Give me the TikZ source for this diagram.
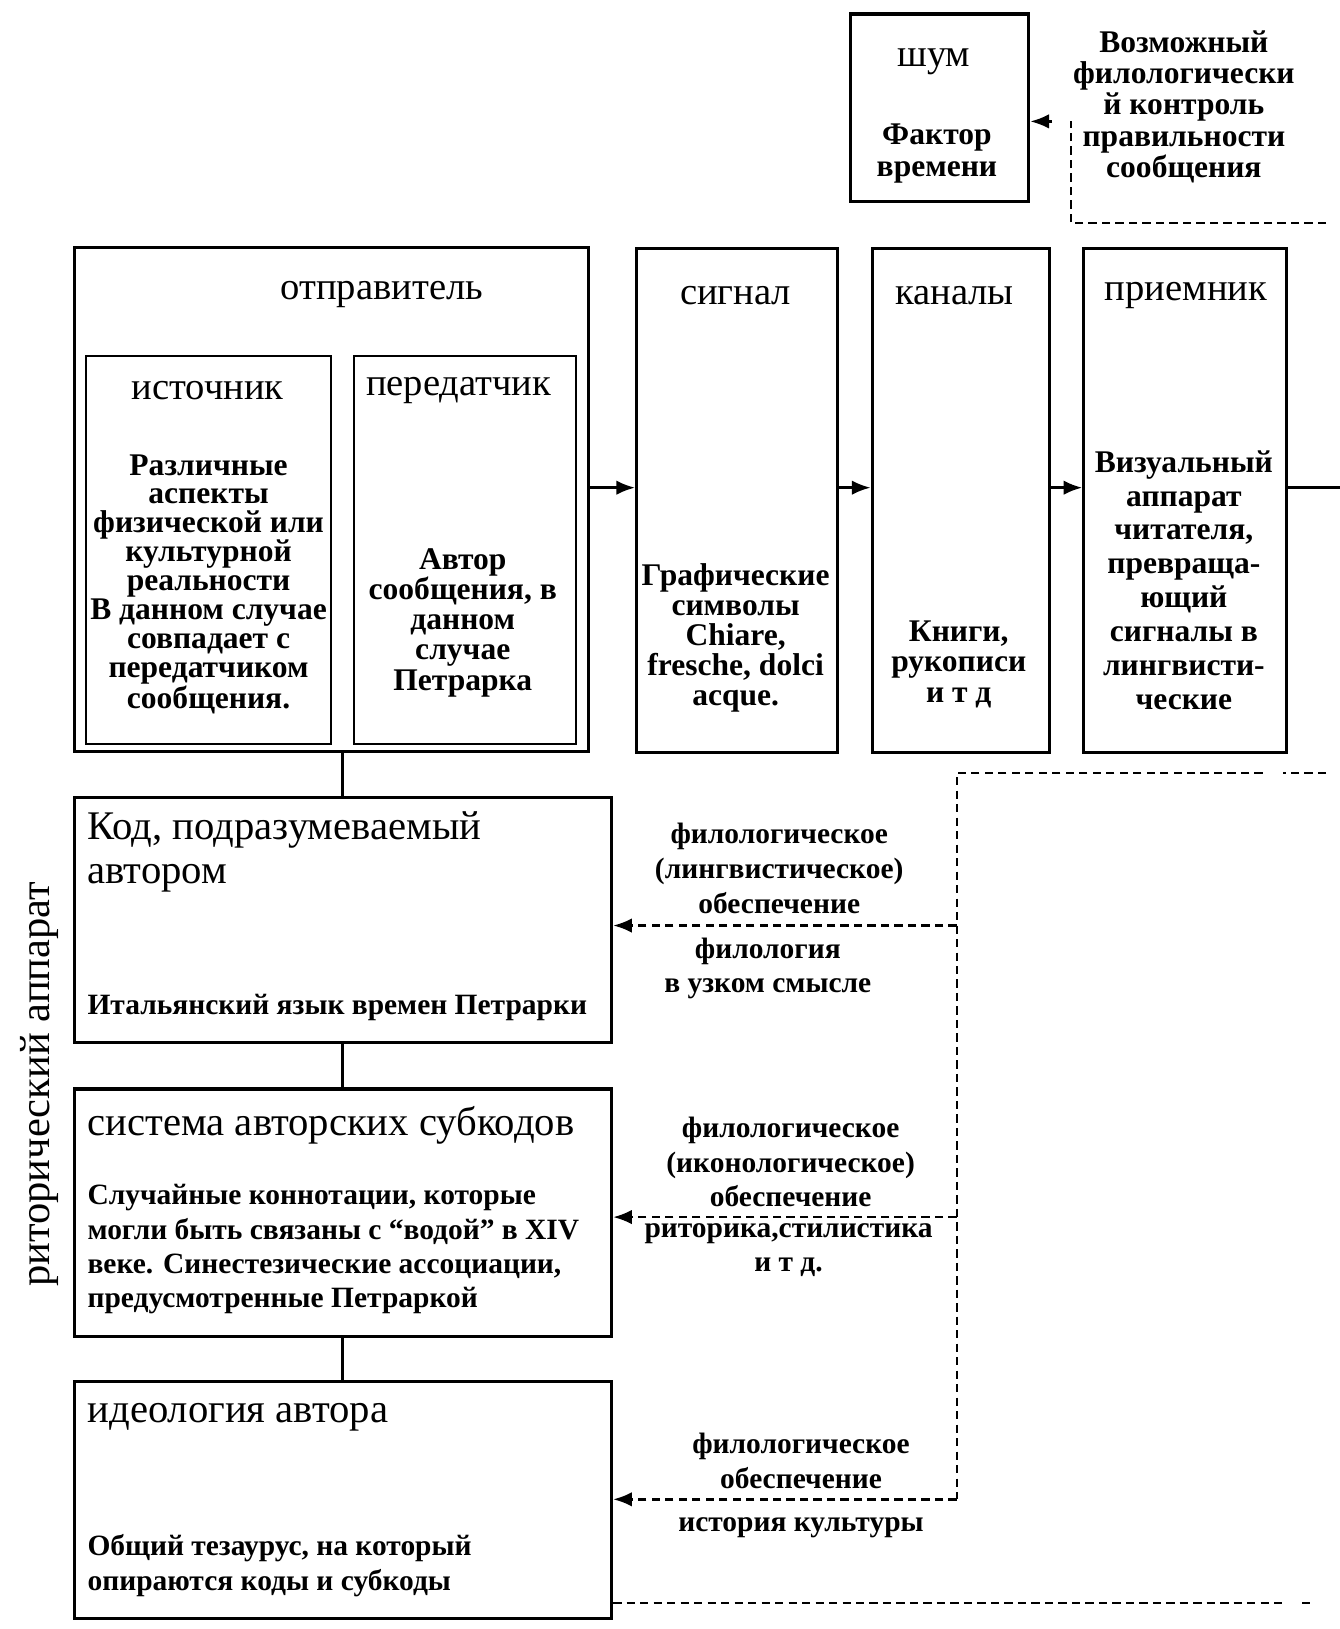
\documentclass[tikz,border=0pt]{standalone}
\usepackage{fontspec}
\setmainfont{Liberation Serif}
\usetikzlibrary{arrows.meta}

\tikzset{
	box/.style={draw, line width=1.5pt, inner sep=0pt, anchor=north west},
	inbox/.style={draw, line width=1pt, inner sep=0pt, anchor=north west},
	head/.style={font=\fontsize{18.6}{20}\selectfont, inner sep=0pt},
	big/.style={font=\fontsize{19.6}{21.5}\selectfont, anchor=west, align=left, inner sep=0pt},
	txt/.style={font=\bfseries\fontsize{14.2}{#1}\selectfont, align=center, inner sep=0pt},
	txt/.default=16.5,
	wide/.style={font=\bfseries\fontsize{15.2}{#1}\selectfont, align=center, inner sep=0pt},
	flow/.style={-{Latex[length=9pt,width=7pt]}, line width=1.2pt},
	feed/.style={line width=1pt, dash pattern=on 4pt off 2.5pt},
}

\begin{document}
\begin{tikzpicture}[x=0.5pt, y=-0.5pt]
	\useasboundingbox (0,0) rectangle (1291,1570);

	% noise
	\node[box, minimum width=86pt, minimum height=90.5pt] (shum) at (818,12) {};
	\node[head] (shumt) at (900,60) {шум};
	\node[wide=15] (shumb) at (903,148) {Фактор\\времени};
	\node[wide=15] (ctrl) at (1141,103) {Возможный\\филологически\\й контроль\\правильности\\сообщения};

	% sender
	\node[box, minimum width=248pt, minimum height=243pt] (snd) at (70,237) {};
	\node[head] (sndt) at (368,284) {отправитель};
	\node[inbox, minimum width=118pt, minimum height=187pt] (src) at (82,342) {};
	\node[head] (srct) at (200,376) {источник};
	\node[wide=13.9] (srcb) at (201,563) {Различные\\аспекты\\физической или\\культурной\\реальности\\В данном случае\\совпадает с\\передатчиком\\сообщения.};
	\node[inbox, minimum width=107pt, minimum height=187pt] (trm) at (340,342) {};
	\node[head] (trmt) at (442,376) {передатчик};
	\node[wide=14.6] (trmb) at (446,600) {Автор\\сообщения, в\\данном\\случае\\Петрарка};

	% channel
	\node[box, minimum width=97pt, minimum height=243pt] (sig) at (612,238) {};
	\node[head] (sigt) at (709,285) {сигнал};
	\node[wide=14.5] (sigb) at (709,615) {Графические\\символы\\Chiare,\\fresche, dolci\\acque.};
	\node[box, minimum width=85.5pt, minimum height=243pt] (chn) at (839,238) {};
	\node[head] (chnt) at (920,285) {каналы};
	\node[wide=14.75] (chnb) at (924,640) {Книги,\\рукописи\\и т д};
	\node[box, minimum width=97.5pt, minimum height=243pt] (rcv) at (1043,238) {};
	\node[head] (rcvt) at (1143,285) {приемник};
	\node[wide=16.3] (rcvb) at (1141,559) {Визуальный\\аппарат\\читателя,\\превраща-\\ющий\\сигналы в\\лингвисти-\\ческие};

	\coordinate (fl) at (0,470);
	\draw[flow] (fl -| snd.east) -- (fl -| sig.west);
	\draw[flow] (fl -| sig.east) -- (fl -| chn.west);
	\draw[flow] (fl -| chn.east) -- (fl -| rcv.west);
	\coordinate (rend) at (1291,470);
	\draw[line width=1.5pt] (rend -| rcv.east) -- (rend);

	% codes
	\node[box, minimum width=259pt, minimum height=118pt] (kod) at (70,767) {};
	\node[big] (kodt) at (84,821) {Код, подразумеваемый\\автором};
	\node[txt, anchor=west] (kodb) at (84,971) {Итальянский язык времен Петрарки};
	\node[box, minimum width=259pt, minimum height=119.5pt] (sub) at (70,1048) {};
	\node[big] (subt) at (84,1085) {система авторских субкодов};
	\node[txt, anchor=west, align=left] (subb) at (84,1204) {Случайные коннотации, которые\\могли быть связаны с “водой” в XIV\\веке. Синестезические ассоциации,\\предусмотренные Петраркой};
	\node[box, minimum width=259pt, minimum height=114pt] (ideo) at (70,1330) {};
	\node[big] (ideot) at (84,1366) {идеология автора};
	\node[txt, anchor=west, align=left] (ideob) at (84,1509) {Общий тезаурус, на который\\опираются коды и субкоды};

	\draw[line width=1.5pt] (kod.north) -- (kod.north |- snd.south);
	\draw[line width=1.5pt] (sub.north) -- (sub.north |- kod.south);
	\draw[line width=1.5pt] (ideo.north) -- (ideo.north |- sub.south);

	\node[font=\fontsize{20.5}{22}\selectfont, rotate=90] (rhet) at (38,1045) {риторический аппарат};

	% philological support
	\node[txt=16.75] (ph1) at (751,837) {филологическое\\(лингвистическое)\\обеспечение};
	\node[txt=16.5] (ph1b) at (740,933) {филология\\в узком смысле};
	\node[txt=16.75] (ph2) at (762,1120) {филологическое\\(иконологическое)\\обеспечение};
	\node[txt=16.5] (ph2b) at (760,1205) {риторика,стилистика\\и т д.};
	\node[txt=16.75] (ph3) at (772,1408) {филологическое\\обеспечение};
	\node[txt] (ph3b) at (772,1472) {история культуры};

	% dashed feedback
	\coordinate (top1) at (1278,215);
	\coordinate (top2) at (1032,215);
	\coordinate (top3) at (1032,117);
	\coordinate (top4) at (1014,117);
	\draw[feed] (top1) -- (top2) -- (top3);
	\draw[flow] (top4) -- (top4 -| shum.east);

	\coordinate (r1) at (1278,745);
	\coordinate (r2) at (1237,745);
	\coordinate (r3) at (1217,745);
	\coordinate (j0) at (922,745);
	\coordinate (j1) at (922,892);
	\coordinate (j2) at (922,1173);
	\coordinate (j3) at (922,1445);
	\draw[feed] (r1) -- (r2);
	\draw[feed] (r3) -- (j0) -- (j3);
	\draw[feed, flow] (j1) -- (j1 -| kod.east);
	\draw[feed, flow] (j2) -- (j2 -| sub.east);
	\draw[feed, flow] (j3) -- (j3 -| ideo.east);

	\coordinate (b1) at (1240,1545);
	\coordinate (b2) at (1255,1545);
	\coordinate (b3) at (1265,1545);
	\draw[feed] (b1 -| ideo.east) -- (b1);
	\draw[feed] (b2) -- (b3);
\end{tikzpicture}
\end{document}
